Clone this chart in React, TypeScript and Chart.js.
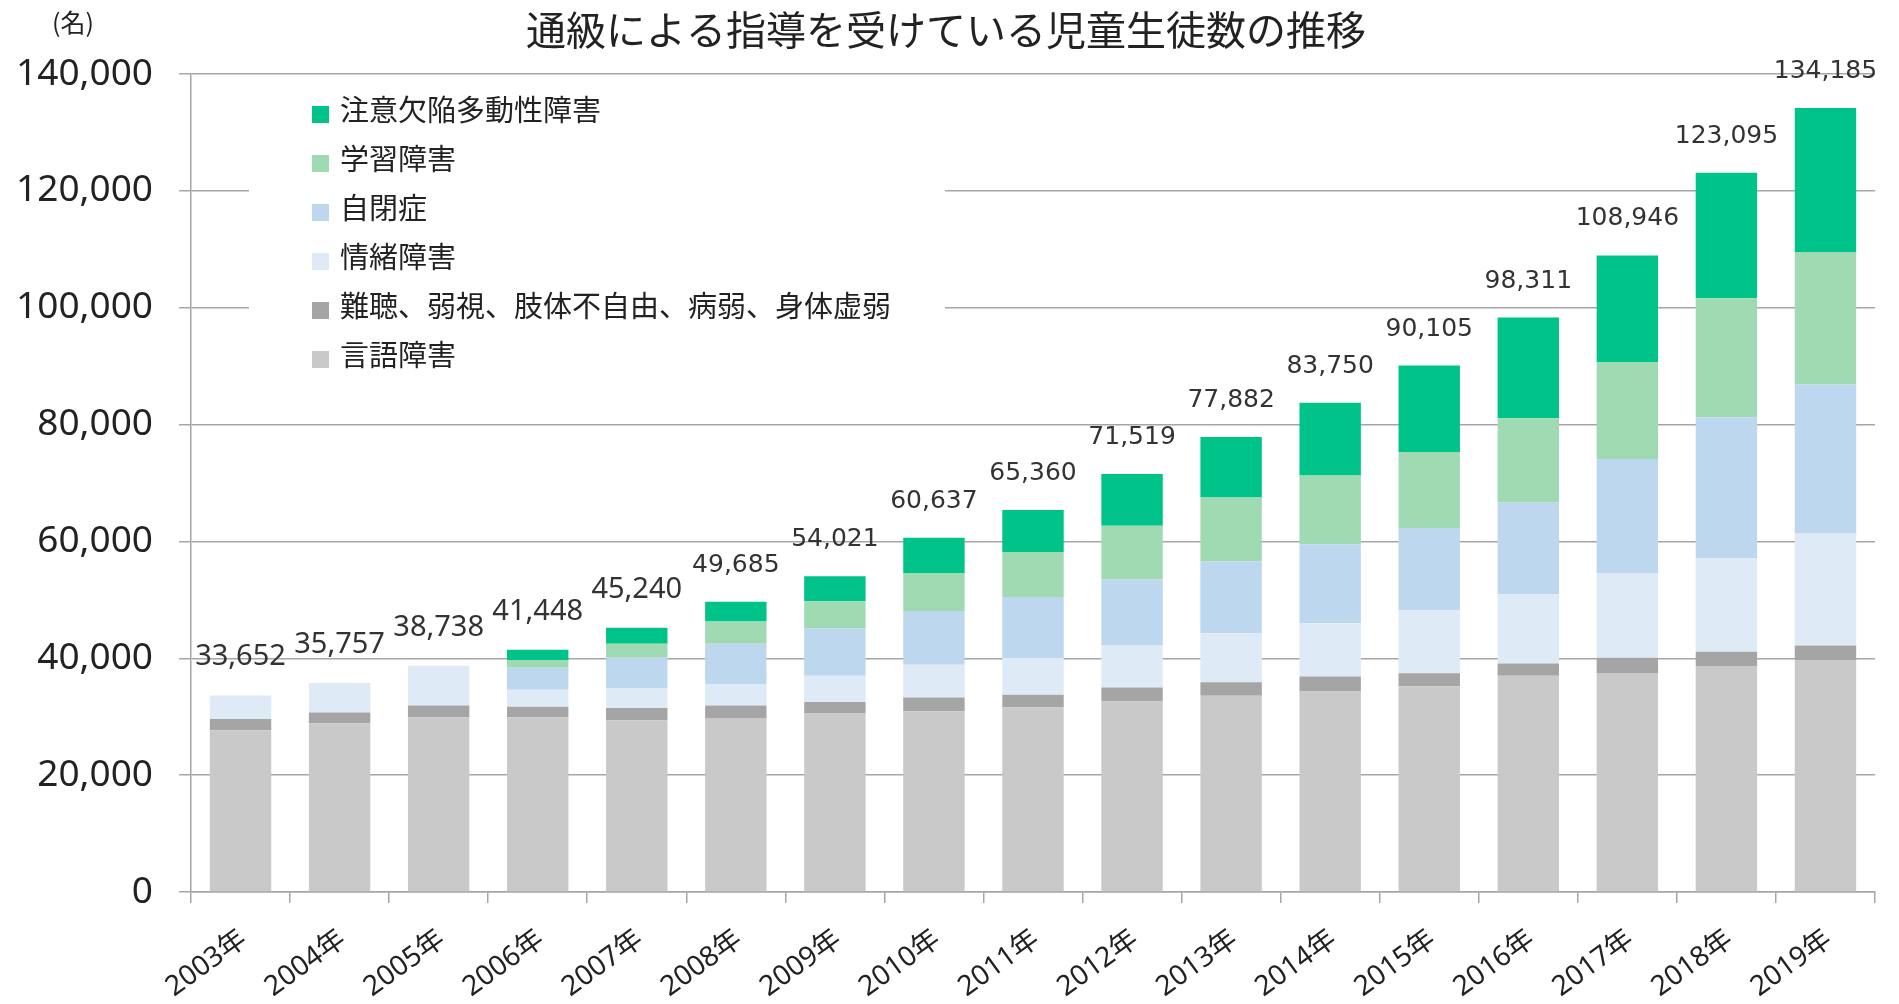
import React, { useEffect, useRef } from "react";
import { Chart, registerables } from "chart.js";

Chart.register(...registerables);

// ---- data ----
const years = [
  "2003年", "2004年", "2005年", "2006年", "2007年", "2008年", "2009年", "2010年", "2011年",
  "2012年", "2013年", "2014年", "2015年", "2016年", "2017年", "2018年", "2019年",
];

// stacked bottom -> top
const gengo = [27700, 28900, 29900, 29900, 29400, 29800, 30550, 30950, 31600, 32650, 33600, 34300, 35200, 37000, 37500, 38700, 39700];
const nanchou = [1900, 1800, 2000, 1800, 2100, 2100, 1950, 2350, 2150, 2350, 2300, 2600, 2250, 2100, 2600, 2400, 2500];
const jocho = [4052, 5057, 6838, 2900, 3400, 3600, 4500, 5600, 6300, 7200, 8400, 9100, 10750, 11850, 14400, 16000, 19150];
const jiheisho = [0, 0, 0, 3800, 5200, 7000, 8100, 9200, 10450, 11300, 12300, 13500, 14100, 15750, 19600, 24150, 25500];
const gakushu = [0, 0, 0, 1300, 2400, 3800, 4650, 6500, 7700, 9200, 10900, 11800, 13000, 14400, 16600, 20350, 22600];
const adhd = [0, 0, 0, 1748, 2740, 3385, 4271, 6037, 7160, 8819, 10382, 12450, 14805, 17211, 18246, 21495, 24735];

const totals = [33652, 35757, 38738, 41448, 45240, 49685, 54021, 60637, 65360, 71519, 77882, 83750, 90105, 98311, 108946, 123095, 134185];

const seriesNames = [
  "言語障害",
  "難聴、弱視、肢体不自由、病弱、身体虚弱",
  "情緒障害",
  "自閉症",
  "学習障害",
  "注意欠陥多動性障害",
];
const seriesColors = ["#c9c9c9", "#a5a5a5", "#deebf7", "#bdd7ee", "#a0dab3", "#00c389"];

const yMax = 140000;
const yStep = 20000;

const titleText = "通級による指導を受けている児童生徒数の推移";
const unitText = "(名)";

const W = 1899;
const H = 1004;

const overlayPlugin = {
  id: "overlay",
  afterDraw(chart: any) {
    const ctx = chart.ctx as CanvasRenderingContext2D;
    const xs = chart.scales.x;
    const ys = chart.scales.y;
    ctx.save();
    // title
    ctx.fillStyle = "#222";
    ctx.textAlign = "center";
    ctx.textBaseline = "middle";
    ctx.font = '40px "Noto Sans CJK JP"';
    ctx.fillText(titleText, 946, 30);
    // unit
    ctx.font = '25px "Noto Sans CJK JP"';
    ctx.fillText(unitText, 73, 22);

    // legend box
    ctx.fillStyle = "#ffffff";
    ctx.fillRect(249, 88, 696, 292);
    const order = [5, 4, 3, 2, 1, 0];
    ctx.textAlign = "left";
    ctx.textBaseline = "middle";
    ctx.font = '29px "Noto Sans CJK JP"';
    order.forEach((si, k) => {
      const cy = 110 + k * 49;
      ctx.fillStyle = seriesColors[si];
      ctx.fillRect(312, cy - 4, 17, 17);
      ctx.fillStyle = "#222";
      ctx.fillText(seriesNames[si], 340, cy);
    });

    // totals
    ctx.textAlign = "center";
    ctx.textBaseline = "alphabetic";
    ctx.fillStyle = "#333";
    totals.forEach((t, i) => {
      const px = xs.getPixelForValue(i);
      const py = ys.getPixelForValue(t);
      ctx.font = i < 5 ? '29px "Noto Sans"' : '25px "DejaVu Sans"';
      ctx.fillText(t.toLocaleString("en-US"), px, py - 30);
    });

    // x category labels (rotated)
    ctx.fillStyle = "#222";
    ctx.font = '28px "Noto Sans", "Noto Sans CJK JP"';
    ctx.textAlign = "right";
    ctx.textBaseline = "top";
    const angle = (-36 * Math.PI) / 180;
    years.forEach((lab, i) => {
      const px = xs.getPixelForValue(i);
      ctx.save();
      ctx.translate(px - 5, xs.top + 33);
      ctx.rotate(angle);
      ctx.fillText(lab, 0, 0);
      ctx.restore();
    });
    ctx.restore();
  },
};

export default function App() {
  const ref = useRef<HTMLCanvasElement | null>(null);
  useEffect(() => {
    if (!ref.current) return;
    const all = [gengo, nanchou, jocho, jiheisho, gakushu, adhd];
    const gridColor = "#a6a6a6";
    const chart = new Chart(ref.current, {
      type: "bar",
      data: {
        labels: years,
        datasets: all.map((d, i) => ({
          label: seriesNames[i],
          data: d,
          backgroundColor: seriesColors[i],
          borderWidth: 0,
          barPercentage: 0.62,
          categoryPercentage: 1.0,
          stack: "s",
        })),
      },
      options: {
        responsive: false,
        animation: false,
        layout: { padding: { top: 74, right: 24, left: 0, bottom: 0 } },
        plugins: {
          legend: { display: false },
          title: { display: false },
          tooltip: { enabled: false },
        },
        scales: {
          x: {
            stacked: true,
            grid: {
              drawOnChartArea: false,
              drawTicks: true,
              tickLength: 11,
              color: gridColor,
              lineWidth: 1.5,
              offset: true,
            },
            border: { display: true, color: gridColor, width: 1.5 },
            ticks: {
              display: false,
              autoSkip: false,
            },
            afterFit: (s: any) => {
              s.height = 112;
            },
          },
          y: {
            stacked: true,
            min: 0,
            max: yMax,
            grid: {
              color: gridColor,
              lineWidth: 1.5,
              drawTicks: true,
              tickLength: 12,
            },
            border: { display: true, color: gridColor, width: 1.5 },
            ticks: {
              stepSize: yStep,
              padding: 26,
              color: "#222",
              font: { family: "'Noto Sans', sans-serif", size: 37 },
              callback: (v: any) => Number(v).toLocaleString("en-US"),
            },
            afterFit: (s: any) => {
              s.width = 191;
            },
          },
        },
      },
      plugins: [overlayPlugin],
    });
    return () => chart.destroy();
  }, []);
  return (
    <div style={{ position: "fixed", left: 0, top: 0, width: W, height: H, background: "#fff" }}>
      <canvas ref={ref} width={W} height={H} style={{ width: W, height: H, display: "block" }} />
    </div>
  );
}
